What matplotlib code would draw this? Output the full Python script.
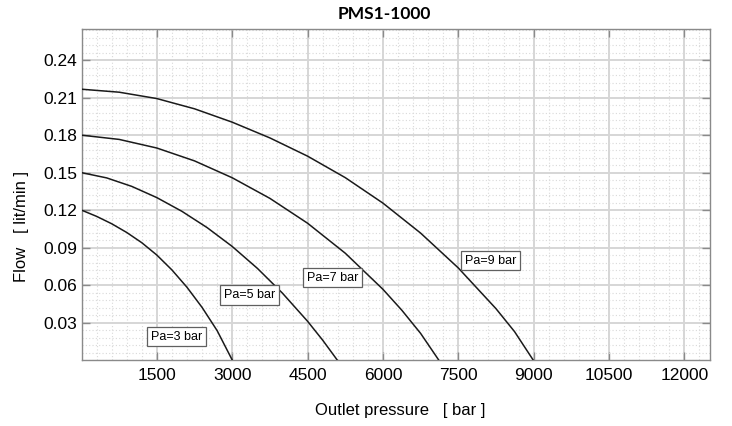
import matplotlib
matplotlib.use("Agg")
import matplotlib.pyplot as plt
from matplotlib.ticker import MultipleLocator, FixedLocator

# Outlet pressure [bar] and flow [lit/min] for each inlet pressure Pa
p_pa3 = [0, 300, 600, 900, 1200, 1500, 1800, 2100, 2400, 2700, 3000]
q_pa3 = [0.120, 0.1150, 0.1091, 0.1021, 0.0939, 0.0840, 0.0721, 0.0582,
         0.0421, 0.0235, 0.0]

p_pa5 = [0, 500, 1000, 1500, 2000, 2500, 3000, 3500, 4000, 4500, 4800, 5090]
q_pa5 = [0.150, 0.1458, 0.1390, 0.1300, 0.1190, 0.1060, 0.0909, 0.0734,
         0.0535, 0.0310, 0.0159, 0.0]

p_pa7 = [0, 750, 1500, 2250, 3000, 3750, 4500, 5250, 6000, 6375, 6750, 7110]
q_pa7 = [0.180, 0.1766, 0.1697, 0.1594, 0.1459, 0.1294, 0.1095, 0.0855,
         0.0566, 0.0399, 0.0213, 0.0]

p_pa9 = [0, 750, 1500, 2250, 3000, 3750, 4500, 5250, 6000, 6750, 7500, 8250,
         8620, 8990]
q_pa9 = [0.2168, 0.2144, 0.2093, 0.2011, 0.1904, 0.1778, 0.1632, 0.1460,
         0.1256, 0.1016, 0.0737, 0.0411, 0.0227, 0.0]

curve_labels = ["Pa=3 bar", "Pa=5 bar", "Pa=7 bar", "Pa=9 bar"]
label_pos_p = [1887, 3348, 5003, 8142]
label_pos_q = [0.0188, 0.052, 0.066, 0.0796]

x_ticks = [1500, 3000, 4500, 6000, 7500, 9000, 10500, 12000]
y_ticks = [0.03, 0.06, 0.09, 0.12, 0.15, 0.18, 0.21, 0.24]

plt.rcParams["font.family"] = ["Liberation Sans", "DejaVu Sans"]

fig = plt.figure(figsize=(7.32, 4.26), dpi=100)
ax = fig.add_axes([81.5 / 732, 1 - 360 / 426, 628 / 732, 331 / 426])

for p, q in zip([p_pa3, p_pa5, p_pa7, p_pa9], [q_pa3, q_pa5, q_pa7, q_pa9]):
    ax.plot(p, q, color="#1a1a1a", lw=1.1, zorder=3, solid_joinstyle="round")

for txt, xp, yq in zip(curve_labels, label_pos_p, label_pos_q):
    ax.text(xp, yq, txt, fontsize=9, ha="center", va="center", zorder=4,
            bbox=dict(boxstyle="square,pad=0.3", fc="white", ec="#606060", lw=0.9))

ax.set_xlim(0, 12500)
ax.set_ylim(0, 0.265)
ax.xaxis.set_major_locator(FixedLocator(x_ticks))
ax.yaxis.set_major_locator(FixedLocator(y_ticks))
ax.set_xticklabels([str(v) for v in x_ticks])
ax.set_yticklabels([f"{v:.2f}" for v in y_ticks])
ax.xaxis.set_minor_locator(MultipleLocator(300))
ax.yaxis.set_minor_locator(MultipleLocator(0.006))

ax.grid(which="major", color="#d6d6d6", lw=1.4, ls="-", zorder=0)
ax.grid(which="minor", color="#d9d9d9", lw=0.8, ls=(0, (1, 2)), zorder=0)
ax.set_axisbelow(True)

ax.tick_params(which="major", direction="in", length=6, width=1, color="#8a8a8a",
               top=True, right=True, labelsize=12.5, pad=6)
ax.tick_params(axis="y", which="major", pad=3)
ax.tick_params(which="minor", length=0, top=True, right=True)

for s in ax.spines.values():
    s.set_color("#8a8a8a")
    s.set_linewidth(1.0)

fig.text(384 / 732, 1 - 14 / 426, "PMS1-1000", ha="center", va="center",
         fontsize=12.5, fontweight="bold", family=["Lato", "DejaVu Sans"])
fig.text(400 / 732, 1 - 411 / 426, "Outlet pressure   [ bar ]", ha="center",
         va="center", fontsize=12)
fig.text(21.5 / 732, 1 - 226 / 426, "Flow   [ lit/min ]", ha="center",
         va="center", rotation=90, fontsize=12)

fig.savefig("out.png", dpi=100)
